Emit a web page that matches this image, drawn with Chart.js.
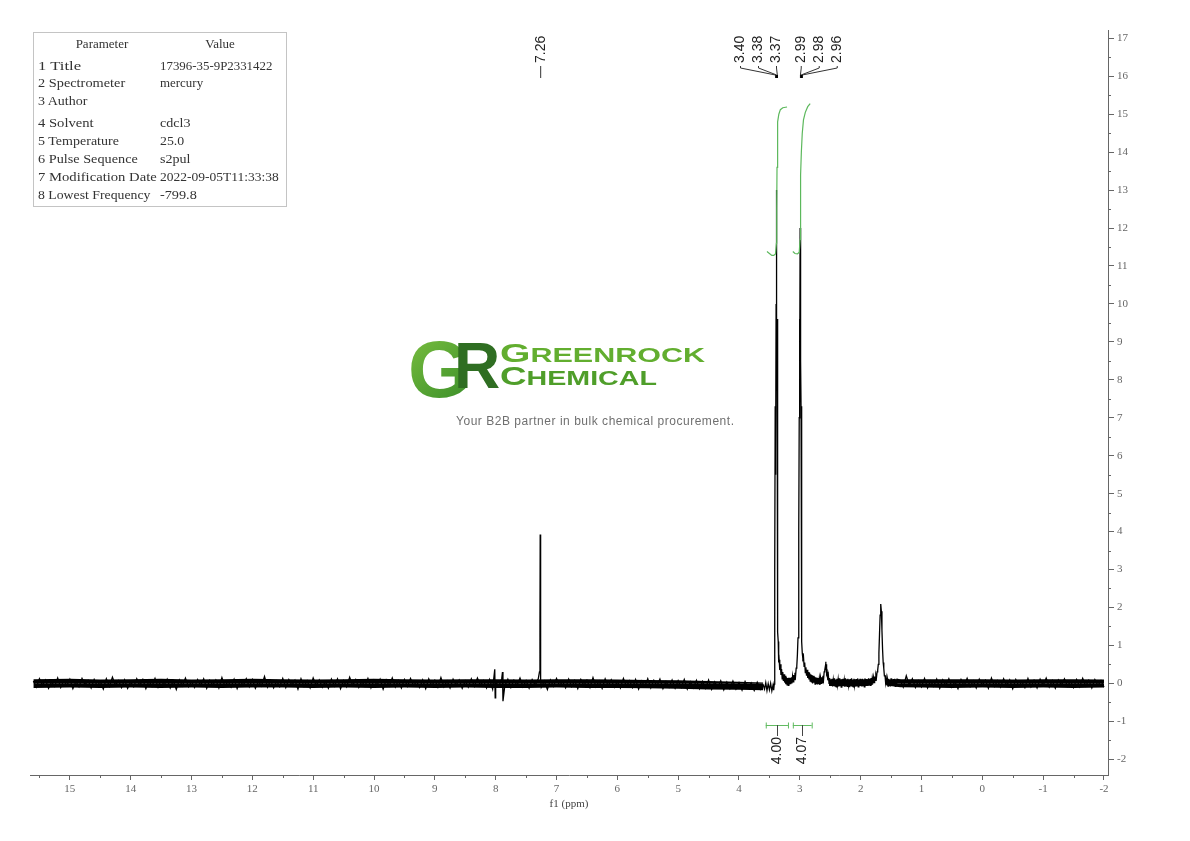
<!DOCTYPE html>
<html>
<head>
<meta charset="utf-8">
<title>1H NMR spectrum</title>
<script src="https://cdn.jsdelivr.net/npm/chart.js@4.4.1/dist/chart.umd.min.js"></script>
<style>
  html, body { margin: 0; padding: 0; background: #fff; }
  #wrap { position: relative; width: 1190px; height: 841px; overflow: hidden; }
  #c { position: absolute; left: 0; top: 0; }
  #overlay { position: absolute; left: 0; top: 0; pointer-events: none; }
</style>
</head>
<body>
<div id="wrap">
  <canvas id="c" width="1190" height="841"></canvas>
  <svg id="overlay" width="1190" height="841" xmlns="http://www.w3.org/2000/svg">
    <defs>
      <linearGradient id="gGrad" x1="0" y1="0" x2="0.6" y2="1">
        <stop offset="0" stop-color="#7fc241"/>
        <stop offset="1" stop-color="#3f922b"/>
      </linearGradient>
    </defs>
    <g id="params"></g>
    <g id="logo">
      <text x="408" y="397" font-family="Liberation Sans, Arial, sans-serif" font-weight="bold" font-size="80" fill="url(#gGrad)">G</text>
      <text x="454" y="388" font-family="Liberation Sans, Arial, sans-serif" font-weight="bold" font-size="64" fill="#2f6e22">R</text>
      <text x="500" y="362" font-family="Liberation Sans, Arial, sans-serif" font-weight="bold" font-size="19.5" fill="#62ae2f" textLength="205" lengthAdjust="spacingAndGlyphs"><tspan font-size="25">G</tspan>REENROCK</text>
      <text x="500" y="385" font-family="Liberation Sans, Arial, sans-serif" font-weight="bold" font-size="19.5" fill="#4f9e2a" textLength="157" lengthAdjust="spacingAndGlyphs"><tspan font-size="25">C</tspan>HEMICAL</text>
      <text x="456" y="424.5" font-family="Liberation Sans, Arial, sans-serif" font-size="12" fill="#707070" textLength="278" lengthAdjust="spacing">Your B2B partner in bulk chemical procurement.</text>
    </g>
  </svg>
</div>
<script>
// acquisition parameters
const paramNames = ['1 Title', '2 Spectrometer', '3 Author', '4 Solvent', '5 Temperature',
                    '6 Pulse Sequence', '7 Modification Date', '8 Lowest Frequency'];
const paramValues = ['17396-35-9P2331422', 'mercury', '', 'cdcl3', '25.0',
                     's2pul', '2022-09-05T11:33:38', '-799.8'];

// axis ticks
const xTicksMin = -2, xTicksMax = 15;
const yTicksMin = -2, yTicksMax = 17;

// baseline noise, 15.60 -> 3.60 ppm every 0.05 ppm
const noiseAStart = 15.6, noiseStep = 0.05;
const noiseA = [
  0.06,-0.10,0.12,-0.05,0.09,-0.13,0.04,-0.08,0.14,-0.11,0.07,-0.06,0.11,-0.14,0.05,-0.09,0.13,-0.04,0.08,-0.12,
  0.10,-0.07,0.05,-0.15,0.12,-0.08,0.16,-0.05,0.07,-0.11,0.09,-0.13,0.04,-0.09,0.12,-0.06,0.10,-0.14,0.06,-0.08,
  0.13,-0.10,0.08,-0.05,0.11,-0.12,0.07,-0.16,0.09,-0.07,0.14,-0.09,0.05,-0.11,0.10,-0.06,0.12,-0.13,0.08,-0.05,
  0.09,-0.12,0.15,-0.08,0.06,-0.10,0.11,-0.14,0.07,-0.06,0.12,-0.09,0.10,-0.13,0.05,-0.07,0.18,-0.10,0.08,-0.12,
  0.06,-0.09,0.13,-0.11,0.10,-0.05,0.08,-0.15,0.12,-0.08,0.07,-0.12,0.14,-0.06,0.09,-0.10,0.05,-0.13,0.11,-0.07,
  0.12,-0.14,0.07,-0.09,0.16,-0.06,0.10,-0.11,0.05,-0.08,0.13,-0.12,0.08,-0.05,0.11,-0.15,0.09,-0.07,0.14,-0.10,
  0.07,-0.12,0.10,-0.08,0.13,-0.06,0.05,-0.11,0.09,-0.14,0.12,-0.07,0.08,-0.10,0.15,-0.09,0.06,-0.12,0.11,-0.05,
  0.09,-0.13,0.06,-0.10,0.12,-0.08,0.14,-0.06,0.07,-0.12,0.10,-0.15,0.05,-0.09,0.13,-0.07,0.11,-0.11,0.08,-0.06,
  0.14,-0.09,0.07,-0.13,0.10,-0.05,0.12,-0.10,0.06,-0.16,0.09,-0.08,0.13,-0.06,0.05,-0.12,0.11,-0.09,0.07,-0.14,
  0.10,-0.06,0.08,-0.11,0.15,-0.09,0.06,-0.13,0.12,-0.07,0.09,-0.10,0.05,-0.12,0.13,-0.08,0.07,-0.11,0.10,-0.15,
  0.06,-0.09,0.12,-0.12,0.08,-0.07,0.11,-0.14,0.05,-0.10,0.09,-0.13,0.07,-0.11,0.10,-0.15,0.04,-0.12,0.08,-0.14,
  0.05,-0.13,0.09,-0.16,0.04,-0.11,0.07,-0.17,0.03,-0.14,0.06,-0.15,0.02,-0.18,0.05,-0.13,0.01,-0.19,0.03,-0.16,
  -0.05
];

// baseline noise, 1.35 -> -2.00 ppm every 0.05 ppm
const noiseCStart = 1.35;
const noiseC = [
  0.08,-0.10,0.20,-0.05,0.12,-0.11,0.07,-0.09,0.13,-0.12,0.06,-0.08,0.11,-0.13,0.09,-0.06,0.12,-0.10,0.05,-0.14,
  0.10,-0.07,0.13,-0.09,0.06,-0.12,0.11,-0.05,0.08,-0.13,0.14,-0.08,0.07,-0.10,0.12,-0.06,0.09,-0.14,0.10,-0.07,
  0.05,-0.11,0.13,-0.09,0.08,-0.12,0.11,-0.06,0.14,-0.10,0.07,-0.13,0.09,-0.05,0.12,-0.08,0.06,-0.11,0.10,-0.09,
  0.13,-0.07,0.08,-0.12,0.10,-0.06,0.07,-0.10
];

// dense core of the noise band  [ppm, upper, lower]
const noiseCore = [
  [15.6,0.11,-0.12],[15.0,0.12,-0.11],[14.5,0.10,-0.12],[14.0,0.11,-0.11],[13.5,0.12,-0.12],
  [13.0,0.10,-0.11],[12.5,0.11,-0.12],[12.0,0.12,-0.11],[11.5,0.11,-0.11],[11.0,0.10,-0.12],
  [10.5,0.11,-0.11],[10.0,0.12,-0.12],[9.5,0.11,-0.11],[9.0,0.10,-0.12],[8.5,0.11,-0.11],
  [8.0,0.11,-0.12],[7.5,0.10,-0.12],[7.0,0.11,-0.11],[6.5,0.11,-0.12],[6.0,0.10,-0.12],
  [5.5,0.09,-0.13],[5.0,0.08,-0.14],[4.5,0.06,-0.16],[4.0,0.04,-0.17],[3.6,0.02,-0.18]
];
const noiseCoreMid = [
  [2.52,0.10,-0.07],[2.3,0.10,-0.08],[2.1,0.10,-0.08],[1.9,0.11,-0.07],[1.79,0.12,-0.03]
];
const noiseCoreEnd = [
  [1.58,0.10,-0.06],[1.35,0.11,-0.10],[1.0,0.11,-0.11],[0.5,0.11,-0.12],[0.0,0.11,-0.11],
  [-0.5,0.10,-0.12],[-1.0,0.11,-0.11],[-1.5,0.11,-0.12],[-2.0,0.10,-0.11]
];

// signal region 3.58 -> 1.40 ppm  [ppm, intensity]
const signalRegion = [
  [3.58,-0.15],[3.56,0.02],[3.54,-0.19],[3.52,-0.01],[3.50,-0.17],[3.48,0.00],[3.46,-0.20],[3.44,-0.04],
  [3.43,-0.18],[3.42,-0.02],[3.415,0.5],[3.41,3.0],[3.405,7.3],[3.40,5.5],[3.395,6.0],[3.39,10.0],
  [3.385,13.0],[3.38,9.0],[3.375,9.6],[3.37,4.0],[3.365,1.9],[3.36,1.35],[3.355,1.1],[3.35,0.75],
  [3.345,0.55],[3.34,0.62],[3.33,0.35],[3.32,0.50],[3.31,0.22],[3.30,0.38],[3.29,0.12],[3.28,0.30],
  [3.27,0.06],[3.26,0.24],[3.25,0.02],[3.24,0.20],[3.23,-0.02],[3.22,0.16],[3.21,-0.04],[3.20,0.14],
  [3.19,-0.05],[3.18,0.15],[3.17,-0.03],[3.16,0.14],[3.15,-0.02],[3.14,0.16],[3.13,0.00],[3.12,0.18],
  [3.11,0.04],[3.10,0.22],[3.09,0.10],[3.08,0.28],[3.07,0.20],[3.06,0.40],[3.05,0.45],[3.04,0.75],
  [3.03,1.2],[3.02,2.4],[3.015,4.0],[3.01,7.0],[3.005,9.6],[3.00,8.0],[2.995,12.0],[2.99,9.0],
  [2.985,8.5],[2.98,7.3],[2.975,3.5],[2.97,1.6],[2.965,1.1],[2.96,0.80],[2.95,0.65],[2.94,0.70],
  [2.93,0.45],[2.92,0.55],[2.91,0.28],[2.90,0.42],[2.89,0.20],[2.88,0.36],[2.87,0.14],[2.86,0.30],
  [2.85,0.10],[2.84,0.28],[2.83,0.06],[2.82,0.24],[2.81,0.04],[2.80,0.22],[2.79,0.00],[2.78,0.20],
  [2.77,0.02],[2.76,0.18],[2.75,-0.02],[2.74,0.16],[2.73,0.00],[2.72,0.15],[2.71,-0.03],[2.70,0.14],
  [2.69,-0.02],[2.68,0.13],[2.67,-0.04],[2.66,0.14],[2.65,0.00],[2.64,0.16],[2.63,0.02],[2.62,0.20],
  [2.61,0.10],[2.60,0.30],[2.59,0.35],[2.58,0.45],[2.575,0.57],[2.57,0.40],[2.565,0.50],[2.56,0.25],
  [2.55,0.30],[2.54,0.08],[2.53,0.20],[2.52,0.00],[2.51,0.14],[2.50,-0.04],[2.49,0.10],[2.48,-0.06],
  [2.47,0.12],[2.46,-0.08],[2.45,0.09],[2.44,-0.05],[2.43,0.13],[2.42,-0.07],[2.41,0.08],[2.40,-0.09],
  [2.39,0.12],[2.38,-0.04],[2.37,0.10],[2.36,-0.08],[2.35,0.13],[2.34,-0.06],[2.33,0.09],[2.32,-0.10],
  [2.31,0.11],[2.30,-0.05],[2.29,0.12],[2.28,-0.07],[2.27,0.08],[2.26,-0.09],[2.25,0.13],[2.24,-0.06],
  [2.23,0.10],[2.22,-0.08],[2.21,0.12],[2.20,-0.05],[2.19,0.09],[2.18,-0.10],[2.17,0.11],[2.16,-0.06],
  [2.15,0.13],[2.14,-0.07],[2.13,0.08],[2.12,-0.09],[2.11,0.12],[2.10,-0.05],[2.09,0.10],[2.08,-0.08],
  [2.07,0.11],[2.06,-0.06],[2.05,0.13],[2.04,-0.09],[2.03,0.09],[2.02,-0.07],[2.01,0.12],[2.00,-0.05],
  [1.99,0.10],[1.98,-0.08],[1.97,0.12],[1.96,-0.06],[1.95,0.09],[1.94,-0.09],[1.93,0.13],[1.92,-0.05],
  [1.91,0.11],[1.90,-0.07],[1.89,0.10],[1.88,-0.06],[1.87,0.13],[1.86,-0.04],[1.85,0.12],[1.84,-0.05],
  [1.83,0.14],[1.82,-0.03],[1.81,0.13],[1.80,0.00],[1.79,0.15],[1.78,0.02],[1.77,0.18],[1.76,0.08],
  [1.75,0.22],[1.74,0.15],[1.73,0.30],[1.72,0.35],[1.71,0.50],[1.70,0.80],[1.69,1.3],
  [1.68,1.8],[1.67,2.09],[1.66,1.9],[1.65,1.4],[1.64,0.90],[1.63,0.55],[1.62,0.40],[1.61,0.20],
  [1.60,0.22],[1.59,0.02],[1.58,0.14],[1.57,-0.04],[1.56,0.10],[1.55,-0.07],[1.54,0.12],[1.53,-0.05],
  [1.52,0.09],[1.51,-0.08],[1.50,0.13],[1.49,-0.06],[1.48,0.10],[1.47,-0.07],[1.46,0.11],[1.45,-0.04],
  [1.44,0.12],[1.43,-0.08],[1.42,0.10],[1.41,-0.06],[1.40,0.11]
];

// CHCl3 line and small artefacts near 8 ppm  [ppm, intensity]
const extraLines = [
  [8.015,0.37],[8.008,-0.38],[7.888,0.30],[7.880,-0.47],
  [7.28,0.30],[7.272,1.5],[7.268,3.92],[7.264,1.2],[7.258,0.10]
];

// integral curves  [ppm, height on the same axis]
const integral1 = [
  [3.54,11.38],[3.50,11.33],[3.46,11.28],[3.43,11.28],[3.40,11.32],[3.385,11.6],[3.38,12.5],
  [3.375,13.6],[3.37,14.4],[3.36,14.8],[3.345,15.0],[3.32,15.12],[3.28,15.17],[3.21,15.19]
];
const integral2 = [
  [3.115,11.38],[3.08,11.33],[3.04,11.32],[3.01,11.36],[2.995,11.7],[2.99,12.6],[2.985,13.4],
  [2.975,14.0],[2.96,14.5],[2.94,14.85],[2.91,15.05],[2.87,15.2],[2.83,15.28]
];
const integralRanges = [[3.56, 3.195], [3.115, 2.805]];
const integralLabels = ['4.00', '4.07'];

// peak picking labels
const peakGroups = [[7.26], [3.40, 3.38, 3.37], [2.99, 2.98, 2.96]];

// ---- build spectrum points ----
const spectrum = [];
noiseA.forEach((v, i) => spectrum.push({ x: +(noiseAStart - i * noiseStep).toFixed(3), y: v }));
signalRegion.forEach(p => spectrum.push({ x: p[0], y: p[1] }));
noiseC.forEach((v, i) => spectrum.push({ x: +(noiseCStart - i * noiseStep).toFixed(3), y: v }));
extraLines.forEach(p => spectrum.push({ x: p[0], y: p[1] }));
spectrum.sort((a, b) => b.x - a.x);

const toXY = arr => arr.map(p => ({ x: p[0], y: p[1] }));
const coreUpper = arr => arr.map(p => ({ x: p[0], y: p[1] }));
const coreLower = arr => arr.map(p => ({ x: p[0], y: p[2] }));

// ---- parameter table (svg text) ----
const svgNS = 'http://www.w3.org/2000/svg';
const paramG = document.getElementById('params');
function addText(parent, str, x, y, opts) {
  const t = document.createElementNS(svgNS, 'text');
  t.setAttribute('x', x);
  t.setAttribute('y', y);
  t.setAttribute('font-family', 'Liberation Serif, serif');
  t.setAttribute('font-size', '13');
  t.setAttribute('fill', '#333');
  if (opts && opts.anchor) t.setAttribute('text-anchor', opts.anchor);
  if (opts && opts.mono) {
    t.setAttribute('textLength', (str.length * 6.3 - 1).toFixed(1));
    t.setAttribute('lengthAdjust', 'spacingAndGlyphs');
  }
  t.textContent = str;
  parent.appendChild(t);
}
const box = document.createElementNS(svgNS, 'rect');
box.setAttribute('x', 33.5); box.setAttribute('y', 32.5);
box.setAttribute('width', 253); box.setAttribute('height', 174);
box.setAttribute('fill', 'none'); box.setAttribute('stroke', '#c4c4c4');
paramG.appendChild(box);
addText(paramG, 'Parameter', 102, 48, { anchor: 'middle' });
addText(paramG, 'Value', 220, 48, { anchor: 'middle' });
paramNames.forEach((name, i) => {
  const by = 69.5 + 17.9 * i + (i >= 3 ? 4 : 0);
  addText(paramG, name, 38, by, { mono: true });
  if (paramValues[i]) addText(paramG, paramValues[i], 160, by, { mono: true });
});

// ---- plugins ----
const minorTicks = {
  id: 'minorTicks',
  afterDraw(chart) {
    const { ctx, scales: { x, y } } = chart;
    ctx.save();
    ctx.strokeStyle = '#666';
    ctx.lineWidth = 1;
    ctx.beginPath();
    for (let v = xTicksMin + 0.5; v < x.max; v += 1) {
      const px = Math.round(x.getPixelForValue(v)) + 0.5;
      ctx.moveTo(px, x.top); ctx.lineTo(px, x.top + 3);
    }
    for (let v = yTicksMin + 0.5; v < y.max; v += 1) {
      const py = Math.round(y.getPixelForValue(v)) + 0.5;
      ctx.moveTo(y.left, py); ctx.lineTo(y.left + 3, py);
    }
    ctx.stroke();
    ctx.restore();
  }
};

// label offsets (px) for multiplet groups, spread away from each other
const labelSpread = [[0], [-36, -18, 0], [0, 18, 36]];

const annotations = {
  id: 'annotations',
  afterDatasetsDraw(chart) {
    const { ctx, chartArea, scales: { x } } = chart;
    ctx.save();
    ctx.font = '14px "Liberation Sans", Arial, sans-serif';
    ctx.lineWidth = 1;

    // peak labels
    peakGroups.forEach((group, gi) => {
      const mean = group.reduce((a, b) => a + b, 0) / group.length;
      const joint = x.getPixelForValue(mean);
      group.forEach((ppm, k) => {
        const lx = joint + labelSpread[gi][k];
        const px = x.getPixelForValue(ppm);
        ctx.strokeStyle = '#333';
        ctx.beginPath();
        if (group.length === 1) {
          ctx.moveTo(lx, 66); ctx.lineTo(lx, 78);
        } else {
          ctx.moveTo(lx, 66); ctx.lineTo(lx, 68);
          ctx.lineTo(px, 75); ctx.lineTo(px, 78);
        }
        ctx.stroke();
        ctx.save();
        ctx.translate(lx, 63);
        ctx.rotate(-Math.PI / 2);
        ctx.fillStyle = '#222';
        ctx.textAlign = 'left';
        ctx.textBaseline = 'middle';
        ctx.fillText(ppm.toFixed(2), 0, 0);
        ctx.restore();
      });
      if (group.length > 1) ctx.fillRect(joint - 1, 75, 2.5, 3);
    });

    // integral brackets
    const yb = chartArea.bottom - 50;
    integralRanges.forEach((r, i) => {
      const x0 = x.getPixelForValue(r[0]);
      const x1 = x.getPixelForValue(r[1]);
      ctx.strokeStyle = '#62bb62';
      ctx.beginPath();
      ctx.moveTo(x0, yb + 0.5); ctx.lineTo(x1, yb + 0.5);
      ctx.moveTo(x0 + 0.5, yb - 2.5); ctx.lineTo(x0 + 0.5, yb + 3.5);
      ctx.moveTo(x1 + 0.5, yb - 2.5); ctx.lineTo(x1 + 0.5, yb + 3.5);
      ctx.stroke();
      const cx = Math.round((x0 + x1) / 2) + 0.5;
      ctx.strokeStyle = '#444';
      ctx.beginPath();
      ctx.moveTo(cx, yb); ctx.lineTo(cx, yb + 11);
      ctx.stroke();
      ctx.save();
      ctx.translate(cx, yb + 12);
      ctx.rotate(-Math.PI / 2);
      ctx.fillStyle = '#222';
      ctx.textAlign = 'right';
      ctx.textBaseline = 'middle';
      ctx.fillText(integralLabels[i], 0, 0);
      ctx.restore();
    });

    // axis title
    ctx.font = '11px "Liberation Serif", serif';
    ctx.fillStyle = '#444';
    ctx.textAlign = 'center';
    ctx.textBaseline = 'middle';
    ctx.fillText('f1 (ppm)', (chartArea.left + chartArea.right) / 2, 804);
    ctx.restore();
  }
};

const tickFont = { family: '"Liberation Serif", serif', size: 11 };
const coreStyle = { showLine: true, borderWidth: 0, borderColor: '#000', backgroundColor: '#000', pointRadius: 0, fill: 'origin', order: 2 };
const coreSets = [noiseCore, noiseCoreMid, noiseCoreEnd].flatMap(seg => [
  Object.assign({ data: coreUpper(seg) }, coreStyle),
  Object.assign({ data: coreLower(seg) }, coreStyle)
]);

new Chart(document.getElementById('c').getContext('2d'), {
  type: 'scatter',
  data: {
    datasets: [
      { data: toXY(integral1), showLine: true, borderColor: '#5cb85c', borderWidth: 1.2, pointRadius: 0, order: 0 },
      { data: toXY(integral2), showLine: true, borderColor: '#5cb85c', borderWidth: 1.2, pointRadius: 0, order: 0 },
      { data: spectrum, showLine: true, borderColor: '#000', borderWidth: 1.3, pointRadius: 0, order: 1 }
    ].concat(coreSets)
  },
  options: {
    responsive: false,
    animation: false,
    layout: { padding: { left: 30, top: 30, right: 0, bottom: 0 } },
    plugins: { legend: { display: false }, tooltip: { enabled: false } },
    scales: {
      x: {
        type: 'linear', reverse: true, min: -2.066, max: 15.655,
        ticks: {
          stepSize: 1, includeBounds: false, autoSkip: false, maxRotation: 0,
          color: '#666', font: tickFont, padding: 3,
          callback: v => (Number.isInteger(v) && v >= xTicksMin && v <= xTicksMax) ? String(v) : ''
        },
        grid: { drawOnChartArea: false, tickLength: 5, color: '#666' },
        border: { color: '#666', width: 1 },
        afterFit: s => { s.height = 66; }
      },
      y: {
        type: 'linear', position: 'right', min: -2.416, max: 17.22,
        ticks: {
          stepSize: 1, includeBounds: false, color: '#666', font: tickFont, padding: 3,
          callback: v => (Number.isInteger(v) && v >= yTicksMin && v <= yTicksMax) ? String(v) : ''
        },
        grid: { drawOnChartArea: false, tickLength: 6, color: '#666' },
        border: { color: '#666', width: 1 },
        afterFit: s => { s.width = 82; }
      }
    }
  },
  plugins: [minorTicks, annotations]
});
</script>
</body>
</html>
